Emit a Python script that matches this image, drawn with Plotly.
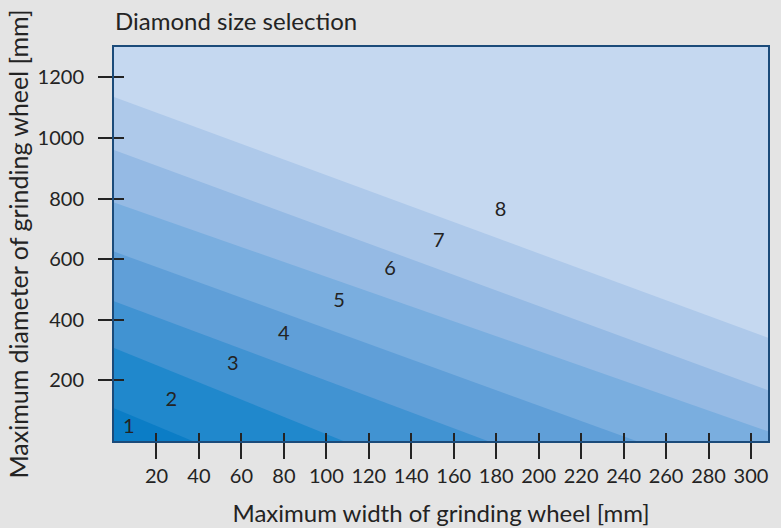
import plotly.graph_objects as go

# axis ticks
width_ticks = [20, 40, 60, 80, 100, 120, 140, 160, 180, 200, 220, 240, 260, 280, 300]
diameter_ticks = [200, 400, 600, 800, 1000, 1200]

# boundaries between size zones: diameter at width 0, width at diameter 0
boundary_diameter = [108, 307, 461, 625, 787, 960, 1135]
boundary_width = [37, 108, 176, 246, 321, 373, 440]

# zone labels
size_labels = ["1", "2", "3", "4", "5", "6", "7", "8"]
label_width = [7, 27, 56, 80, 106, 130, 153, 182]
label_diameter = [42, 131, 250, 349, 458, 563, 658, 760]

zone_colors = ["#0b7dc6", "#2088cc", "#4193d2", "#609fd8", "#7aaedf",
               "#95bae4", "#aec9ea", "#c5d8f0"]

X_RANGE = [0, 308]
Y_RANGE = [0, 1300]
INK = "#232323"
FONT = "Lato"

fig = go.Figure()

# fill from the top boundary downwards so lower zones sit on top
for i in reversed(range(len(boundary_diameter))):
    fig.add_trace(go.Scatter(
        x=[0, boundary_width[i]],
        y=[boundary_diameter[i], 0],
        mode="lines",
        line=dict(width=0, color=zone_colors[i]),
        fill="tozeroy",
        fillcolor=zone_colors[i],
        hoverinfo="skip",
        showlegend=False,
    ))

fig.add_trace(go.Scatter(
    x=label_width,
    y=label_diameter,
    mode="text",
    text=size_labels,
    textfont=dict(family=FONT, size=20, color=INK),
    xaxis="x2",
    yaxis="y2",
    hoverinfo="skip",
    showlegend=False,
))

fig.update_layout(
    width=781,
    height=528,
    margin=dict(l=114, r=13, t=47, b=87),
    paper_bgcolor="#e4e4e4",
    plot_bgcolor=zone_colors[-1],
    font=dict(family=FONT, color=INK),
    title=dict(
        text="Diamond size selection",
        font=dict(family=FONT, size=24, color=INK),
        xref="container", x=115 / 781, xanchor="left",
        yref="container", y=1 - 22 / 528, yanchor="middle",
    ),
    xaxis=dict(
        range=X_RANGE,
        tickvals=width_ticks,
        ticks="outside", ticklen=16, tickwidth=2, tickcolor=INK,
        tickfont=dict(size=20, color=INK),
        showline=True, linecolor="#1b4b7a", linewidth=2, mirror=True,
        showgrid=False, zeroline=False, automargin=False,
        title=dict(text="Maximum width of grinding wheel [mm]",
                   font=dict(size=24, color=INK), standoff=19),
    ),
    yaxis=dict(
        range=Y_RANGE,
        tickvals=diameter_ticks,
        ticks="outside", ticklen=14, tickwidth=2, tickcolor=INK,
        tickfont=dict(size=20, color=INK),
        ticklabelstandoff=10,
        showline=True, linecolor="#1b4b7a", linewidth=2, mirror=True,
        showgrid=False, zeroline=False, automargin=False,
        title=dict(text="Maximum diameter of grinding wheel [mm]",
                   font=dict(size=25, color=INK), standoff=2),
    ),
    # overlay axes carry the inner half of the crossing ticks
    xaxis2=dict(
        overlaying="x", range=X_RANGE, tickvals=width_ticks,
        ticks="inside", ticklen=8, tickwidth=2, tickcolor=INK,
        showticklabels=False, showline=False, showgrid=False, zeroline=False,
        automargin=False,
    ),
    yaxis2=dict(
        overlaying="y", side="left", range=Y_RANGE, tickvals=diameter_ticks,
        ticks="inside", ticklen=10, tickwidth=2, tickcolor=INK,
        showticklabels=False, showline=False, showgrid=False, zeroline=False,
        automargin=False,
    ),
)

# drop the browser's default body margin so the figure fills the window
fig.write_html("out.html", config={"displayModeBar": False},
               post_script="document.body.style.margin = '0';")
